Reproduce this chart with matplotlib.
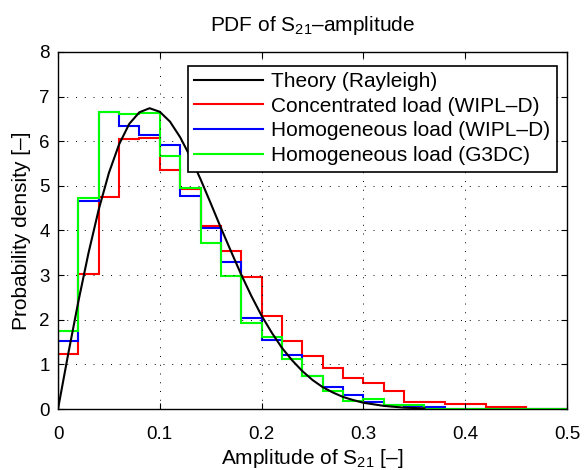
import numpy as np
import matplotlib
matplotlib.use('Agg')
import matplotlib.pyplot as plt
from matplotlib.lines import Line2D

plt.rcParams['font.family'] = ['Liberation Sans', 'DejaVu Sans']
plt.rcParams['mathtext.fontset'] = 'custom'
plt.rcParams['mathtext.rm'] = 'Liberation Sans'

# bordas dos bins (largura 0.02)
bordas = [0.00, 0.02, 0.04, 0.06, 0.08, 0.10, 0.12, 0.14, 0.16, 0.18, 0.20,
          0.22, 0.24, 0.26, 0.28, 0.30, 0.32, 0.34, 0.36, 0.38, 0.40,
          0.42, 0.44, 0.46, 0.48, 0.50]

# histogramas
concentrada_wipld = [1.23, 3.02, 4.74, 6.04, 6.08, 5.35, 4.93, 4.10, 3.54, 2.95,
                     2.08, 1.52, 1.18, 0.91, 0.70, 0.58, 0.40, 0.16, 0.16, 0.12,
                     0.12, 0.04, 0.04, 0.01, 0.01]
homogenea_wipld = [1.53, 4.66, 6.66, 6.34, 6.15, 5.92, 4.77, 4.05, 3.30, 2.04,
                   1.54, 1.21, 0.73, 0.50, 0.31, 0.15, 0.10, 0.07, 0.04, 0.01,
                   0.005, 0.005, 0.005, 0.0, 0.0]
homogenea_g3dc = [1.75, 4.72, 6.66, 6.60, 6.63, 5.66, 4.96, 3.72, 2.97, 1.92,
                  1.62, 1.11, 0.75, 0.40, 0.19, 0.23, 0.10, 0.10, 0.01, 0.01,
                  0.005, 0.005, 0.005, 0.005, 0.005]

# curva teorica (Rayleigh)
x_teoria = [0.00, 0.01, 0.02, 0.03, 0.04, 0.05, 0.06, 0.07, 0.08, 0.09, 0.10,
            0.11, 0.12, 0.13, 0.14, 0.15, 0.16, 0.17, 0.18, 0.19, 0.20,
            0.21, 0.22, 0.23, 0.24, 0.25, 0.26, 0.27, 0.28, 0.29, 0.30,
            0.32, 0.34, 0.36]
y_teoria = [0.00, 1.23, 2.41, 3.50, 4.47, 5.29, 5.93, 6.39, 6.65, 6.74, 6.66,
            6.44, 6.09, 5.65, 5.15, 4.61, 4.06, 3.53, 3.01, 2.53, 2.09,
            1.71, 1.37, 1.09, 0.85, 0.65, 0.49, 0.37, 0.27, 0.20, 0.14,
            0.07, 0.03, 0.015]

legendas = ['Theory (Rayleigh)', 'Concentrated load (WIPL\u2013D)',
            'Homogeneous load (WIPL\u2013D)', 'Homogeneous load (G3DC)']
cores = ['k', (1, 0, 0), (0, 0, 1), (0, 1, 0)]

fig = plt.figure(figsize=(5.84, 4.70), dpi=100)
ax = fig.add_axes([58/584, 61/470, 509/584, 357/470])

ax.plot(x_teoria, y_teoria, color=cores[0], lw=1.5)
ax.stairs(concentrada_wipld, bordas, color=cores[1], lw=1.5)
ax.stairs(homogenea_wipld, bordas, color=cores[2], lw=1.5)
ax.stairs(homogenea_g3dc, bordas, color=cores[3], lw=1.5)

ax.set_xlim(0, 0.5)
ax.set_ylim(0, 8)
ax.set_xticks([0, 0.1, 0.2, 0.3, 0.4, 0.5])
ax.set_xticklabels(['0', '0.1', '0.2', '0.3', '0.4', '0.5'])
ax.set_yticks(range(9))
ax.tick_params(direction='in', top=True, right=True, labelsize=13.5, length=4)
ax.tick_params(axis='x', pad=12)
ax.tick_params(axis='y', pad=6)
ax.grid(True, linestyle=(0, (1, 8)), color='k', lw=0.7)
for s in ax.spines.values():
    s.set_linewidth(1.0)

ax.set_title('PDF of S$_{21}$\u2013amplitude', fontsize=15, pad=15)
ax.set_xlabel('Amplitude of S$_{21}$ [\u2013]', fontsize=15, labelpad=3)
ax.set_ylabel('Probability density [\u2013]', fontsize=15, labelpad=6)

handles = [Line2D([], [], color=c, lw=1.5) for c in cores]
leg = ax.legend(handles, legendas, loc='upper right', fontsize=15, fancybox=False,
                framealpha=1, edgecolor='k', borderaxespad=0,
                bbox_to_anchor=(0.980, 0.962), handlelength=3.3,
                labelspacing=0.28, borderpad=0.3, handletextpad=0.4)
leg.get_frame().set_linewidth(1.2)

fig.savefig('out.png', dpi=100)
